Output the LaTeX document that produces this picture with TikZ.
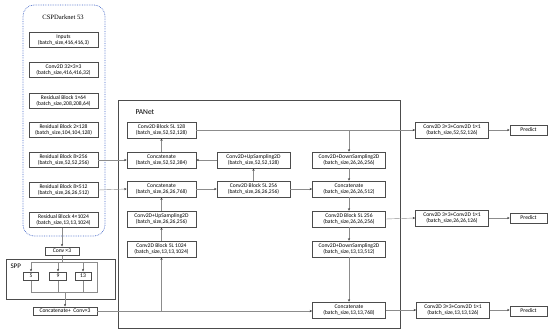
\documentclass[tikz,border=0pt]{standalone}
\usepackage{fontspec}
\setmainfont{Carlito}
\newfontfamily\titleserif{Liberation Serif}
\usetikzlibrary{arrows.meta}
\begin{document}
\begin{tikzpicture}[x=1pt,y=-1pt,
  bx/.style={draw=black!70, line width=0.5pt, fill=white, inner sep=0pt, align=center,
    font=\fontsize{5.6}{6.4}\selectfont, minimum height=15pt},
  lbx/.style={bx, minimum width=69pt},
  pbx/.style={bx, minimum width=69pt, minimum height=16pt},
  wbx/.style={bx, minimum width=73pt, minimum height=16pt},
  sbx/.style={bx, minimum height=8.5pt},
  conn/.style={draw=black!45, line width=0.4pt, -{Stealth[length=2.6pt,width=2.2pt,color=black!75]}},
  ln/.style={draw=black!45, line width=0.4pt},
]
\useasboundingbox (0,0) rectangle (550,333);

% CSPDarknet frame
\draw[draw={rgb,255:red,70;green,105;blue,200}, densely dotted, line width=0.7pt, rounded corners=11pt]
  (23,5) rectangle (105,236);
\node[font=\titleserif\fontsize{6.6}{7.5}\selectfont] (tcsp) at (63,17) {CSPDarknet 53};

\node[lbx] (in)  at (63.5,40)  {Inputs\\(batch\_size,416,416,3)};
\node[lbx] (c32) at (63.5,70)  {Conv2D 32×3×3\\(batch\_size,416,416,32)};
\node[lbx] (r1)  at (63.5,101) {Residual Block 1×64\\(batch\_size,208,208,64)};
\node[lbx] (r2)  at (63.5,130) {Residual Block 2×128\\(batch\_size,104,104,128)};
\node[lbx] (r8a) at (63.5,160) {Residual Block 8×256\\(batch\_size,52,52,256)};
\node[lbx] (r8b) at (63.5,190) {Residual Block 8×512\\(batch\_size,26,26,512)};
\node[lbx] (r4)  at (63.5,220) {Residual Block 4×1024\\(batch\_size,13,13,1024)};

% SPP
\node[sbx, minimum width=34pt] (cv3) at (62,251) {Conv ×3};
\draw[draw=black!70, line width=0.5pt] (6,259) rectangle (115,299);
\node[font=\fontsize{7}{8}\selectfont, anchor=west] (spp) at (7,266) {SPP};
\node[sbx, minimum width=15pt] (p5)  at (31,276) {5};
\node[sbx, minimum width=17pt] (p9)  at (58,276) {9};
\node[sbx, minimum width=16pt] (p13) at (83,276) {13};
\coordinate (tb) at (62,262);
\coordinate (bb) at (65,292);
\node[sbx, minimum width=64pt] (ccv) at (65,311) {Concatenate+\ \ Conv×3};

\draw[conn] (r4.south -| cv3.north) -- (cv3.north);
\draw[ln] (cv3.south) -- (tb);
\draw[ln] (p5.north |- tb) -- (97,262) -- (97,292) -- (p5.south |- bb);
\draw[conn] (p5.north |- tb) -- (p5.north);
\draw[conn] (p9.north |- tb) -- (p9.north);
\draw[conn] (p13.north |- tb) -- (p13.north);
\draw[ln] (p5.south) -- (p5.south |- bb);
\draw[ln] (p9.south) -- (p9.south |- bb);
\draw[ln] (p13.south) -- (p13.south |- bb);
\draw[conn] (bb) -- (ccv.north);

% PANet frame
\draw[draw=black!70, line width=0.5pt] (118,100) rectangle (400,328);
\node[font=\fontsize{7.5}{8}\selectfont, anchor=west] (pan) at (132,112) {PANet};

\node[pbx] (b128) at (161.5,130) {Conv2D Block 5L 128\\(batch\_size,52,52,128)};
\node[pbx] (k384) at (161.5,160) {Concatenate\\(batch\_size,52,52,384)};
\node[pbx] (k768) at (161.5,189) {Concatenate\\(batch\_size,26,26,768)};
\node[pbx] (u256) at (161.5,219) {Conv2D+UpSampling2D\\(batch\_size,26,26,256)};
\node[pbx] (b1024) at (161.5,249) {Conv2D Block 5L 1024\\(batch\_size,13,13,1024)};

\node[wbx] (u128) at (253.5,160) {Conv2D+UpSampling2D\\(batch\_size,52,52,128)};
\node[wbx] (b256a) at (253.5,189) {Conv2D Block 5L 256\\(batch\_size,26,26,256)};

\node[wbx] (d256) at (349,160) {Conv2D+DownSampling2D\\(batch\_size,26,26,256)};
\node[wbx] (k512) at (349,189) {Concatenate\\(batch\_size,26,26,512)};
\node[wbx] (b256b) at (349,219) {Conv2D Block 5L 256\\(batch\_size,26,26,256)};
\node[wbx] (d512) at (349,249) {Conv2D+DownSampling2D\\(batch\_size,13,13,512)};
\node[wbx] (k13) at (349,310) {Concatenate\\(batch\_size,13,13,768)};

\node[wbx] (h52) at (452,130) {Conv2D 3×3+Conv2D 1×1\\(batch\_size,52,52,126)};
\node[wbx] (h26) at (452,218) {Conv2D 3×3+Conv2D 1×1\\(batch\_size,26,26,126)};
\node[wbx] (h13) at (453,310) {Conv2D 3×3+Conv2D 1×1\\(batch\_size,13,13,126)};

\node[bx, minimum width=37pt, minimum height=10pt] (pr1) at (528.5,130) {Predict};
\node[bx, minimum width=37pt, minimum height=10pt] (pr2) at (528.5,218) {Predict};
\node[bx, minimum width=37pt, minimum height=10pt] (pr3) at (528.5,311) {Predict};

% connectors
\draw[conn] (r8a.east) -- (k384.west);
\draw[conn] (r8b.east) -- (k768.west);
\draw[conn] (ccv.east) -- (k13.west |- ccv.east);
\draw[conn] (b1024.south |- ccv.east) -- (b1024.south);
\draw[conn] (b1024.north) -- (u256.south);
\draw[conn] (u256.north) -- (k768.south);
\draw[conn] (k768.east) -- (b256a.west);
\draw[conn] (b256a.north) -- (u128.south);
\draw[conn] (u128.west) -- (k384.east);
\draw[conn] (k384.north) -- (b128.south);
\draw[conn] (b128.east) -- (h52.west);
\draw[conn] (d256.north |- b128.east) -- (d256.north);
\draw[conn] (d256.south) -- (k512.north);
\draw[conn] (b256a.east) -- (k512.west);
\draw[conn] (k512.south) -- (b256b.north);
\draw[conn] (b256b.east) -- (h26.west);
\draw[conn] (b256b.south) -- (d512.north);
\draw[conn] (d512.south) -- (k13.north);
\draw[conn] (k13.east) -- (h13.west);
\draw[conn] (h52.east) -- (pr1.west);
\draw[conn] (h26.east) -- (pr2.west);
\draw[conn] (h13.east) -- (pr3.west |- h13.east);
\end{tikzpicture}
\end{document}
